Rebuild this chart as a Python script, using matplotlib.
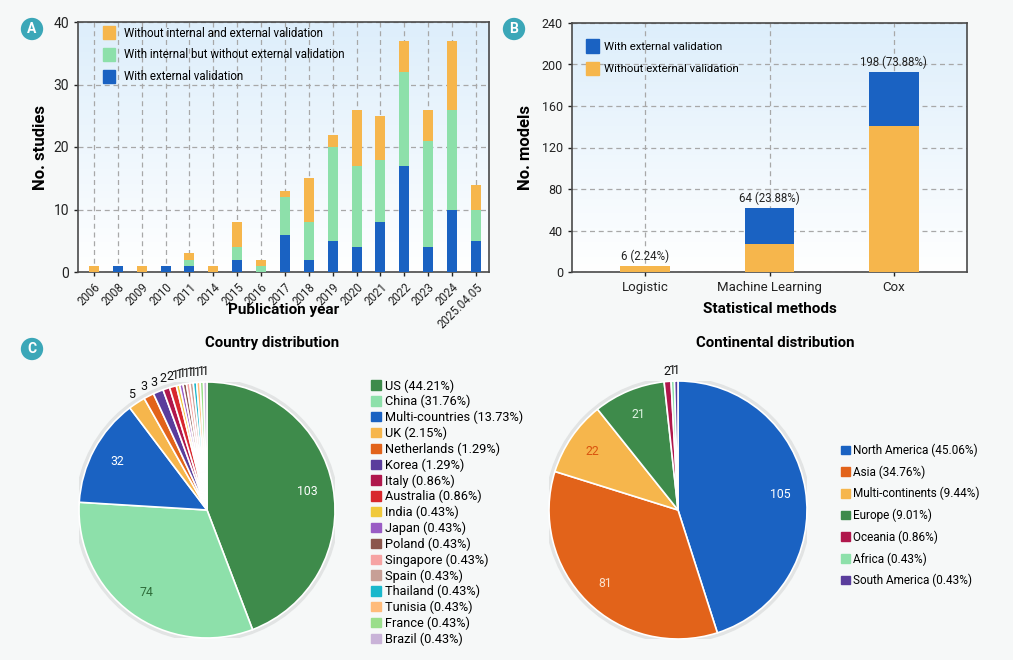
import numpy as np
import matplotlib
matplotlib.use("Agg")
import matplotlib.pyplot as plt
from matplotlib.patches import Patch, Circle
from matplotlib.colors import LinearSegmentedColormap

plt.rcParams['font.family'] = ['Roboto', 'DejaVu Sans']

# ---- data ----
years = ['2006', '2008', '2009', '2010', '2011', '2014', '2015', '2016', '2017',
         '2018', '2019', '2020', '2021', '2022', '2023', '2024', '2025.04.05']
ext_val = [0, 1, 0, 1, 1, 0, 2, 0, 6, 2, 5, 4, 8, 17, 4, 10, 5]
int_only = [0, 0, 0, 0, 1, 0, 2, 1, 6, 6, 15, 13, 10, 15, 17, 16, 5]
no_val = [1, 0, 1, 0, 1, 1, 4, 1, 1, 7, 2, 9, 7, 5, 5, 11, 4]

methods = ['Logistic', 'Machine Learning', 'Cox']
m_without = [6, 27, 141]
m_with = [0, 35, 52]
m_labels = ['6 (2.24%)', '64 (23.88%)', '198 (73.88%)']

countries = ['US', 'China', 'Multi-countries', 'UK', 'Netherlands', 'Korea', 'Italy',
             'Australia', 'India', 'Japan', 'Poland', 'Singapore', 'Spain', 'Thailand',
             'Tunisia', 'France', 'Brazil']
country_n = [103, 74, 32, 5, 3, 3, 2, 2, 1, 1, 1, 1, 1, 1, 1, 1, 1]
country_pct = ['44.21', '31.76', '13.73', '2.15', '1.29', '1.29', '0.86', '0.86', '0.43',
               '0.43', '0.43', '0.43', '0.43', '0.43', '0.43', '0.43', '0.43']

continents = ['North America', 'Asia', 'Multi-continents', 'Europe', 'Oceania', 'Africa',
              'South America']
cont_n = [105, 81, 22, 21, 2, 1, 1]
cont_pct = ['45.06', '34.76', '9.44', '9.01', '0.86', '0.43', '0.43']

# colours
BLUE = '#1a62c2'
GREEN = '#8de0aa'
ORANGE = '#f6b64c'
country_cols = ['#3e8b4b', '#8de0aa', '#1a62c2', '#f6b64c', '#e2631a', '#5a3d9c',
                '#b0174c', '#d8282d', '#f0c93a', '#9a5cc4', '#8b564c', '#f6a3a3',
                '#c79f96', '#19b8cc', '#ffbb7a', '#9ade8b', '#c9b3d8']
cont_cols = ['#1a62c2', '#e2631a', '#f6b64c', '#3e8b4b', '#b0174c', '#8de0aa', '#5a3d9c']
inner_cols_country = ['white', '#2f6e3b', 'white']
inner_cols_cont = ['white', '#fbe2cc', '#d9540f', '#dff3e2']

W, H = 1013, 660


def px(l, t, r, b):
    return [l / W, 1 - b / H, (r - l) / W, (b - t) / H]


fig = plt.figure(figsize=(W / 100, H / 100), dpi=100)
fig.patch.set_facecolor('#f6f8f8')

grad = np.linspace(0, 1, 256).reshape(-1, 1)
bg_cmap = LinearSegmentedColormap.from_list('bg', ['#ffffff', '#ddeefb'])


def style_bar_ax(ax):
    ax.imshow(grad, cmap=bg_cmap, aspect='auto', origin='lower',
              extent=[0, 1, 0, 1], transform=ax.transAxes, zorder=0)
    ax.grid(True, linestyle=(0, (4, 3)), color='#a8a8a8', linewidth=0.9, zorder=1)
    ax.set_axisbelow(True)
    for s in ax.spines.values():
        s.set_color('#4a4a4a')
        s.set_linewidth(1.2)
    ax.tick_params(colors='#222222', width=1, length=3)


# ---- panel A ----
axA = fig.add_axes(px(78, 22, 489, 272))
style_bar_ax(axA)
x = np.arange(len(years))
bw = 0.42
axA.bar(x, ext_val, bw, color=BLUE, zorder=3)
axA.bar(x, int_only, bw, bottom=ext_val, color=GREEN, zorder=3)
axA.bar(x, no_val, bw, bottom=np.array(ext_val) + np.array(int_only), color=ORANGE, zorder=3)
axA.set_xlim(-0.67, 16.55)
axA.set_ylim(0, 40)
axA.set_yticks([0, 10, 20, 30, 40])
axA.set_xticks(x)
axA.set_xticklabels(years, rotation=45, ha='right', rotation_mode='anchor', fontsize=8.3)
axA.tick_params(axis='y', labelsize=10)
axA.set_ylabel('No. studies', fontsize=12, fontweight='bold', labelpad=4)
axA.set_xlabel('Publication year', fontsize=11, fontweight='bold', va='center')
axA.xaxis.set_label_coords(0.5, -0.152)
axA.legend(handles=[Patch(color=ORANGE, label='Without internal and external validation'),
                    Patch(color=GREEN, label='With internal but without external validation'),
                    Patch(color=BLUE, label='With external validation')],
           loc='upper left', bbox_to_anchor=(0.035, 1.025), frameon=False, fontsize=8.3,
           handlelength=1.1, handleheight=1.4, labelspacing=0.72, handletextpad=0.7)

# ---- panel B ----
axB = fig.add_axes(px(572, 23, 967, 272))
style_bar_ax(axB)
xb = np.arange(len(methods))
bwb = 0.4
axB.bar(xb, m_without, bwb, color=ORANGE, zorder=3)
axB.bar(xb, m_with, bwb, bottom=m_without, color=BLUE, zorder=3)
for i, lab in enumerate(m_labels):
    axB.text(xb[i], m_without[i] + m_with[i] + 3, lab, ha='center', va='bottom', fontsize=8.3,
             color='#222222')
axB.set_xlim(-0.59, 2.59)
axB.set_ylim(0, 240)
axB.set_yticks(range(0, 241, 40))
axB.set_xticks(xb)
axB.set_xticklabels(methods, fontsize=9.5)
axB.tick_params(axis='y', labelsize=9)
axB.set_ylabel('No. models', fontsize=12, fontweight='bold', labelpad=6)
axB.set_xlabel('Statistical methods', fontsize=11, fontweight='bold', labelpad=6)
axB.legend(handles=[Patch(color=BLUE, label='With external validation'),
                    Patch(color=ORANGE, label='Without external validation')],
           loc='upper left', bbox_to_anchor=(0.01, 0.975), frameon=False, fontsize=8.2,
           handlelength=1.1, handleheight=1.4, labelspacing=0.78, handletextpad=0.5)


# ---- pies ----
def draw_pie(rect, vals, cols, inner_cols, small_fs):
    ax = fig.add_axes(rect)
    ax.add_patch(Circle((0, 0), 1.015, facecolor='none', edgecolor='#e2e4e4', linewidth=3,
                        zorder=0))
    wedges, _ = ax.pie(vals, colors=cols, startangle=90, counterclock=False, radius=1,
                       wedgeprops=dict(edgecolor='white', linewidth=1.2))
    k = 0
    for w, v in zip(wedges, vals):
        ang = np.deg2rad((w.theta1 + w.theta2) / 2)
        if v >= 10:
            ax.text(0.8 * np.cos(ang), 0.8 * np.sin(ang), str(v), ha='center', va='center',
                    fontsize=8.8, color=inner_cols[k])
            k += 1
        else:
            ax.text(1.08 * np.cos(ang), 1.08 * np.sin(ang), str(v), ha='center', va='center',
                    fontsize=small_fs, color='#111111')
    ax.set_xlim(-1, 1)
    ax.set_ylim(-1, 1)
    ax.set_aspect('equal')
    ax.axis('off')
    return ax, wedges


axC1, w1 = draw_pie(px(79, 382, 335, 638), country_n, country_cols, inner_cols_country, 9)
axC2, w2 = draw_pie(px(549, 381, 807, 639), cont_n, cont_cols, inner_cols_cont, 9)

fig.legend(handles=[Patch(color=c, label=f'{n} ({p}%)')
                    for c, n, p in zip(country_cols, countries, country_pct)],
           loc='upper left', bbox_to_anchor=(366 / W, 1 - 374 / H), frameon=False,
           fontsize=9.2, handlelength=0.75, handleheight=0.75, labelspacing=0.19,
           handletextpad=0.3, borderaxespad=0)
fig.legend(handles=[Patch(color=c, label=f'{n} ({p}%)')
                    for c, n, p in zip(cont_cols, continents, cont_pct)],
           loc='upper left', bbox_to_anchor=(836 / W, 1 - 439 / H), frameon=False,
           fontsize=8.5, handlelength=0.75, handleheight=0.75, labelspacing=0.7,
           handletextpad=0.3, borderaxespad=0)

fig.text(272 / W, 1 - 343 / H, 'Country distribution', ha='center', va='center',
         fontsize=10.8, fontweight='bold')
fig.text(775 / W, 1 - 343 / H, 'Continental distribution', ha='center', va='center',
         fontsize=10.8, fontweight='bold')

# panel badges
for lab, cx, cy in [('A', 32, 29), ('B', 514, 29), ('C', 32, 349)]:
    fig.text(cx / W, 1 - cy / H, lab, ha='center', va='center', fontsize=10,
             fontweight='bold', color='white',
             bbox=dict(boxstyle='circle,pad=0.3', facecolor='#3ba7b8', edgecolor='none'))

fig.savefig('out.png', dpi=100, facecolor=fig.get_facecolor())
